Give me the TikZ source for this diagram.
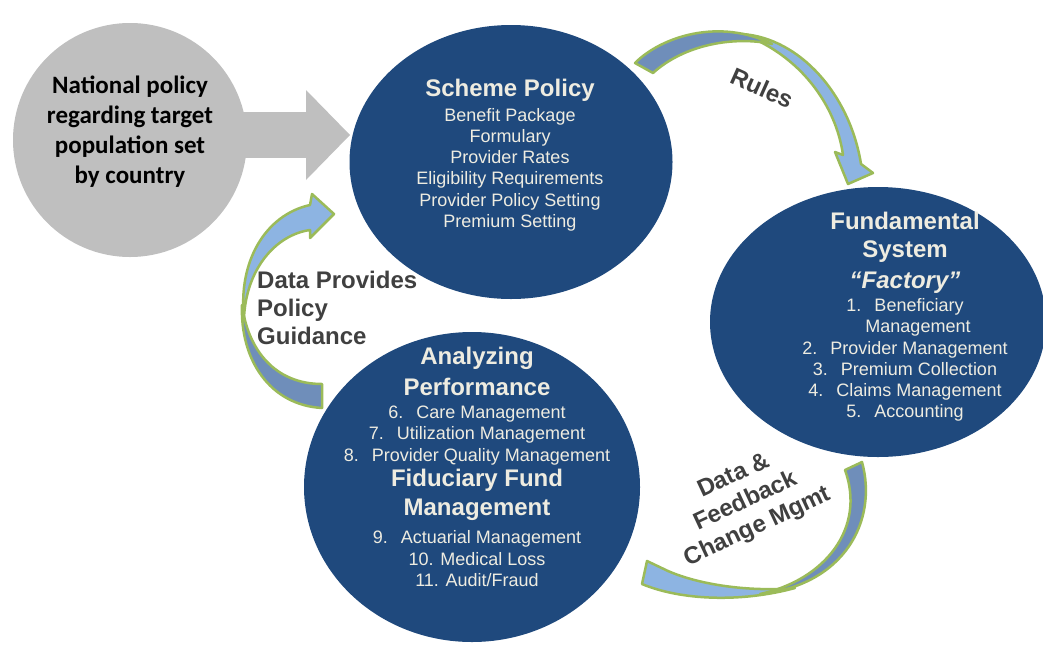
\documentclass[tikz,border=0pt]{standalone}
\usepackage{fontspec}
\setmainfont{Liberation Sans}
\newfontfamily\calibri{Carlito}
\usetikzlibrary{arrows.meta}
\usetikzlibrary{shapes.geometric}

\definecolor{schemeblue}{RGB}{31,73,125}
\definecolor{cream}{RGB}{238,236,225}
\definecolor{policygray}{RGB}{191,191,191}
\definecolor{labelgray}{RGB}{64,64,64}
\definecolor{frontblue}{RGB}{141,180,226}
\definecolor{backblue}{RGB}{111,142,186}
\definecolor{rimgreen}{RGB}{155,187,89}

\newcommand{\ttl}[1]{{\bfseries\fontsize{24}{28}\selectfont #1}}
\newcommand{\nr}[1]{#1.\hspace{13pt}}

\tikzset{
  blob/.style={ellipse, fill=schemeblue, inner sep=0pt},
  inside/.style={text=cream, align=center, inner sep=0pt,
    font=\fontsize{18}{21.2}\selectfont},
  tag/.style={text=labelgray, inner sep=0pt,
    font=\bfseries\fontsize{24}{28}\selectfont},
  frontface/.style={fill=frontblue, draw=rimgreen, line width=2.5pt, line join=round},
  backface/.style={fill=backblue, draw=rimgreen, line width=2.5pt, line join=round},
}

\begin{document}
\begin{tikzpicture}[x=1pt, y=-1pt]
  \useasboundingbox (0,0) rectangle (1043,646);

  \node[circle, fill=policygray, minimum size=234, inner sep=0pt] (nat) at (130,140) {};
  \coordinate (tip) at (350,135);
  \draw[line width=46pt, policygray, -{Triangle[length=44pt, width=90pt, line width=0pt]}]
    ([xshift=-8pt]nat.east |- tip) -- (tip);
  \node[align=center, inner sep=0pt, font=\calibri\bfseries\fontsize{25}{30}\selectfont]
    (nattxt) at (130,132) {National policy\\ regarding target\\ population set\\ by country};

  \node[blob, minimum width=323, minimum height=274] (scheme) at (511,162) {};
  \node[blob, minimum width=336, minimum height=310] (analyze) at (472,487) {};
  \node[blob, minimum width=336, minimum height=270] (fund) at (878,322) {};

  \node[inside] (schemetxt) at (510,155) {\ttl{Scheme Policy}\\[3.8pt]
    Benefit Package\\ Formulary\\ Provider Rates\\ Eligibility Requirements\\
    Provider Policy Setting\\ Premium Setting};

  \node[inside] (fundtxt) at (905,317) {\ttl{Fundamental}\\[6.8pt] \ttl{System}\\[8pt]
    \ttl{\itshape ``Factory''}\\[2pt]
    \nr{1}Beneficiary\\ \hspace*{26pt}Management\\ \nr{2}Provider Management\\
    \nr{3}Premium Collection\\ \nr{4}Claims Management\\ \nr{5}Accounting};

  \node[inside] (analyzetxt) at (477,467) {\ttl{Analyzing}\\[7pt] \ttl{Performance}\\[2pt]
    \nr{6}Care Management\\ \nr{7}Utilization Management\\
    \nr{8}Provider Quality Management\\[4pt]
    \ttl{Fiduciary Fund}\\[7pt] \ttl{Management}\\[7pt]
    \nr{9}Actuarial Management\\ 10. Medical Loss\\ 11. Audit/Fraud};

  % rules
  \filldraw[frontface] (742,34) .. controls (800,38) and (850,95) .. (861,164)
    -- (873,173) -- (848,184) -- (835,152) -- (843,155)
    .. controls (836,105) and (800,55) .. (742,34) -- cycle;
  \filldraw[backface] (635,63) .. controls (662,36) and (720,18) .. (772,44)
    .. controls (735,36) and (685,44) .. (653,73) -- cycle;

  % data back to policy
  \filldraw[frontface] (244,318) .. controls (238,262) and (265,215) .. (310,205)
    -- (312,194) -- (334,214) -- (310,238) -- (310,230)
    .. controls (275,235) and (246,270) .. (244,318) -- cycle;
  \filldraw[backface] (322,408) .. controls (270,405) and (240,360) .. (242,305)
    .. controls (248,350) and (275,384) .. (322,384) -- cycle;

  % feedback
  \filldraw[frontface] (642,584) .. controls (680,600) and (740,603) .. (795,588)
    .. controls (750,592) and (700,585) .. (668,571) -- (647,561) -- cycle;
  \filldraw[backface] (862,462) .. controls (878,520) and (845,585) .. (760,594)
    .. controls (825,580) and (866,528) .. (845,470) -- cycle;

  \node[tag, rotate=-24] (rules) at (762,88) {Rules};
  \node[tag, align=left, anchor=west] (guide) at (257,308) {Data Provides\\ Policy\\ Guidance};
  \node[tag, align=center, rotate=25] (feedback) at (746,502) {Data \&\\ Feedback\\ Change Mgmt};
\end{tikzpicture}
\end{document}
